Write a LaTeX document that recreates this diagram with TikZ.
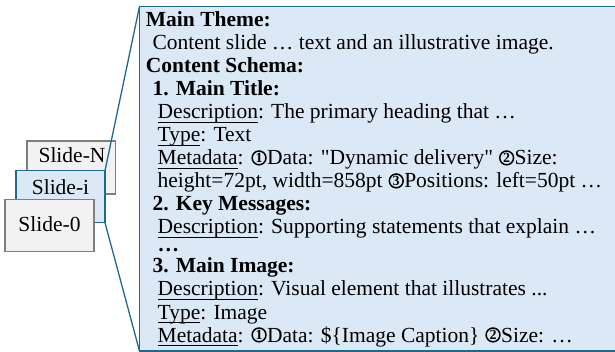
\documentclass[tikz,border=0pt]{standalone}
\usepackage{fontspec}
\setmainfont{Liberation Serif}[Ligatures=NoCommon]

\definecolor{paneblue}{RGB}{219,232,245}
\definecolor{paneedge}{RGB}{31,105,140}
\definecolor{slidegrayfill}{RGB}{242,242,242}
\definecolor{slidegrayedge}{RGB}{127,127,127}

% underline drawn just below the baseline, ignoring descenders
\newcommand\undr[1]{\setbox0\hbox{#1}\rlap{\rule[-4.2pt]{\wd0}{1.4pt}}\box0}
% circled step numbers
\newcommand\cnum[1]{\hspace{0.6pt}\tikz[baseline={(0,-7.1pt)}]{%
  \draw[line width=1.5pt] (0,0) circle[radius=6.9pt];%
  \node[inner sep=0pt, anchor=center, font=\fontsize{14}{14}\selectfont\bfseries] at (0,0.3pt) {#1};}\hspace{0.4pt}}

\tikzset{
  slidegray/.style={draw=slidegrayedge, fill=slidegrayfill, line width=1.1pt,
    rectangle, outer sep=0pt, inner sep=0pt, anchor=north west},
  slideblue/.style={draw=paneedge, fill=paneblue, line width=1.1pt,
    rectangle, outer sep=0pt, inner sep=0pt, anchor=north west},
  panel/.style={draw=paneedge, fill=paneblue, line width=1.5pt,
    rectangle, outer sep=0pt, inner sep=0pt, anchor=north west},
  zoomline/.style={draw=paneedge, line width=1.3pt},
  slidelabel/.style={anchor=base, inner sep=0pt, font=\fontsize{21.5}{23}\selectfont},
  ln/.style={anchor=base west, inner sep=0pt, font=\fontsize{21.5}{23}\selectfont},
}

\begin{document}
\begin{tikzpicture}[x=1pt, y=-1pt]
\useasboundingbox (0,0) rectangle (615,352);
\clip (0,0) rectangle (615,352);

% stack of slides
\node[slidegray, minimum width=88.5pt, minimum height=53pt] (sN) at (27,141) {};
\node[slidelabel] (lN) at (72,163) {Slide-N};
\node[slideblue, minimum width=89pt, minimum height=52pt] (si) at (16,170.7) {};
\node[slidelabel] (li) at (60.5,195) {Slide-i};
\node[slidegray, minimum width=89pt, minimum height=52.4pt] (s0) at (5,199.3) {};
\node[slidelabel] (l0) at (49.5,231.5) {Slide-0};

% detail panel
\node[panel, minimum width=520pt, minimum height=344.5pt] (pn) at (139.5,6.5) {};

% zoom lines from the selected slide to the panel
\draw[zoomline] (si.north east) -- (pn.north west);
\draw[zoomline] (si.south east) -- (pn.south west);

% panel text
\node[ln] (t1)  at (145.7,27)  {\textbf{Main Theme:}};
\node[ln] (t2)  at (152.3,50)  {Content slide … text and an illustrative image.};
\node[ln] (t3)  at (145.7,73)  {\textbf{Content Schema:}};
\node[ln] (t4)  at (152.3,96)  {\textbf{1. Main Title:}};
\node[ln] (t5)  at (157.5,119) {\undr{Description}: The primary heading that …};
\node[ln] (t6)  at (157.5,142) {\undr{Type}: Text};
\node[ln] (t7)  at (157.5,165) {\undr{Metadata}: \cnum{1}Data: \textquotedbl Dynamic delivery\textquotedbl{} \cnum{2}Size:};
\node[ln] (t8)  at (157.5,188) {height=72pt, width=858pt \cnum{3}Positions: left=50pt …};
\node[ln] (t9)  at (152.3,211) {\textbf{2. Key Messages:}};
\node[ln] (t10) at (157.5,234) {\undr{Description}: Supporting statements that explain …};
\node[ln] (t11) at (157.5,252) {\textbf{…}};
\node[ln] (t12) at (152.3,273) {\textbf{3. Main Image:}};
\node[ln] (t13) at (157.5,296) {\undr{Description}: Visual element that illustrates ...};
\node[ln] (t14) at (157.5,319) {\undr{Type}: Image};
\node[ln] (t15) at (157.5,342) {\undr{Metadata}: \cnum{1}Data: \$\{Image Caption\} \cnum{2}Size: …};
\end{tikzpicture}
\end{document}
